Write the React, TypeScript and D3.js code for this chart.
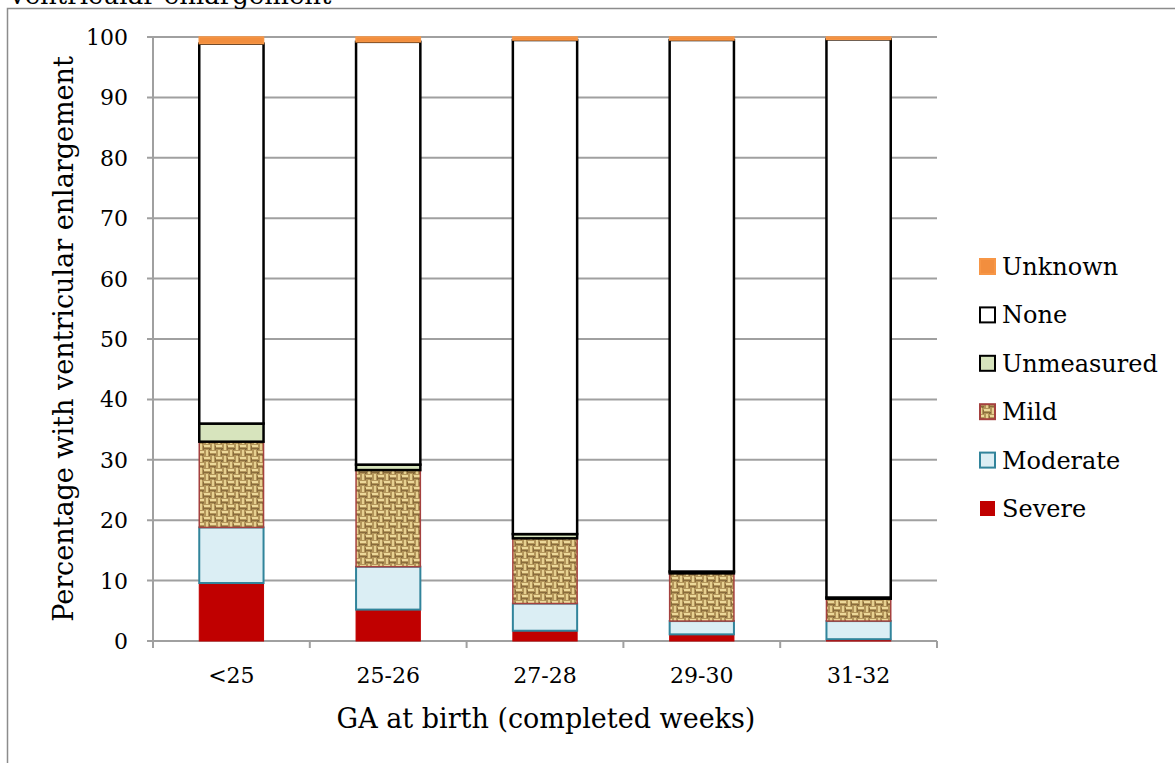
import React from "react";
import * as d3 from "d3";

const categories = ["<25", "25-26", "27-28", "29-30", "31-32"];
const seriesNames = ["Severe", "Moderate", "Mild", "Unmeasured", "None", "Unknown"];
const severe = [9.6, 5.2, 1.7, 1.1, 0.3];
const moderate = [9.2, 7.1, 4.5, 2.2, 3.0];
const mild = [14.2, 16.0, 10.8, 7.9, 3.7];
const unmeasured = [3.0, 0.9, 0.7, 0.3, 0.2];
const none = [62.9, 70.0, 81.8, 88.0, 92.4];
const unknown = [1.1, 0.8, 0.5, 0.5, 0.4];
const yTicks = [0, 10, 20, 30, 40, 50, 60, 70, 80, 90, 100];
const legendOrder = ["Unknown", "None", "Unmeasured", "Mild", "Moderate", "Severe"];

const styles: Record<string, { fill: string; stroke: string; sw: number }> = {
  Severe: { fill: "#c00000", stroke: "#c00000", sw: 1 },
  Moderate: { fill: "#dbeef4", stroke: "#31849b", sw: 2 },
  Mild: { fill: "url(#burlap)", stroke: "#a5413f", sw: 1.5 },
  Unmeasured: { fill: "#d7e4bd", stroke: "#000000", sw: 2.5 },
  None: { fill: "#ffffff", stroke: "#000000", sw: 2.5 },
  Unknown: { fill: "#f28e3e", stroke: "#f79646", sw: 1.5 },
};

const FONT = "'DejaVu Serif', serif";

export default function App() {
  const W = 1175, H = 763;
  const left = 153, right = 937, top = 37, bottom = 641;
  const x = d3.scaleBand<string>().domain(categories).range([left, right]).padding(0);
  const y = d3.scaleLinear().domain([0, 100]).range([bottom, top]);
  const barW = x.bandwidth() * 0.41;

  const table = categories.map((c, i) => ({
    cat: c,
    Severe: severe[i],
    Moderate: moderate[i],
    Mild: mild[i],
    Unmeasured: unmeasured[i],
    None: none[i],
    Unknown: unknown[i],
  }));
  const stacked = d3.stack<any>().keys(seriesNames)(table);

  return (
    <svg width={W} height={H} style={{ position: "absolute", left: 0, top: 0, background: "#fff" }}>
      <defs>
        <pattern id="burlap" width="12" height="12" patternUnits="userSpaceOnUse">
          <rect width="12" height="12" fill="#b3955a" />
          <rect x="0" y="1" width="6" height="2" fill="#ecd89a" />
          <rect x="8" y="0" width="2" height="6" fill="#e6d090" />
          <rect x="6" y="7" width="6" height="2" fill="#ecd89a" />
          <rect x="2" y="6" width="2" height="6" fill="#e6d090" />
          <rect x="5" y="4" width="1.5" height="1.5" fill="#4a3418" />
          <rect x="10" y="10" width="1.5" height="1.5" fill="#5b4220" />
          <rect x="0" y="4" width="6" height="1" fill="#8a6c3c" />
          <rect x="6" y="10" width="6" height="1" fill="#8a6c3c" />
          <rect x="11" y="2" width="1" height="4" fill="#8a6c3c" />
          <rect x="5" y="8" width="1" height="4" fill="#8a6c3c" />
        </pattern>
      </defs>
      <rect x={0} y={0} width={W} height={H} fill="#fff" />
      <rect x={7.5} y={8.5} width={1300} height={900} fill="none" stroke="#8c8c8c" strokeWidth={1.5} />
      <text x={10} y={4} fontFamily={FONT} fontSize={26} fill="#000">ventricular enlargement</text>

      {yTicks.map((t) => (
        <line key={"g" + t} x1={left - 6} x2={right} y1={y(t)} y2={y(t)} stroke="#a0a0a0" strokeWidth={2} />
      ))}
      <line x1={left} x2={left} y1={top} y2={bottom} stroke="#a0a0a0" strokeWidth={2} />
      {[...categories.map((c) => x(c) as number), right].map((px, i) => (
        <line key={"xt" + i} x1={px} x2={px} y1={bottom} y2={bottom + 7} stroke="#a0a0a0" strokeWidth={2} />
      ))}
      {yTicks.map((t) => (
        <text key={"yl" + t} x={128} y={y(t)} dy="0.36em" textAnchor="end" fontFamily={FONT} fontSize={22} fill="#000">
          {t}
        </text>
      ))}
      {categories.map((c) => (
        <text key={"xl" + c} x={(x(c) as number) + x.bandwidth() / 2} y={683} textAnchor="middle" fontFamily={FONT} fontSize={22} fill="#000">
          {c}
        </text>
      ))}

      {stacked.map((s) => {
        const st = styles[s.key];
        return (
          <g key={s.key}>
            {s.map((d: any, i: number) => {
              const cx = (x(categories[i]) as number) + x.bandwidth() / 2;
              return (
                <rect
                  key={i}
                  x={cx - barW / 2}
                  y={y(d[1])}
                  width={barW}
                  height={Math.max(0, y(d[0]) - y(d[1]))}
                  fill={st.fill}
                  stroke={st.stroke}
                  strokeWidth={st.sw}
                />
              );
            })}
          </g>
        );
      })}

      <text x={(left + right) / 2 + 1} y={728} textAnchor="middle" fontFamily={FONT} fontSize={27} fill="#000">
        GA at birth (completed weeks)
      </text>
      <text transform={`translate(73, ${(top + bottom) / 2}) rotate(-90)`} textAnchor="middle" fontFamily={FONT} fontSize={27} fill="#000">
        Percentage with ventricular enlargement
      </text>

      {legendOrder.map((k, i) => {
        const st = styles[k];
        const ly = 259 + i * 48.4;
        return (
          <g key={"lg" + k}>
            <rect x={980} y={ly} width={15} height={15} fill={st.fill} stroke={st.stroke} strokeWidth={k === "Severe" ? 0 : 2} />
            <text x={1002} y={ly + 16} fontFamily={FONT} fontSize={24} fill="#000">
              {k}
            </text>
          </g>
        );
      })}
    </svg>
  );
}
